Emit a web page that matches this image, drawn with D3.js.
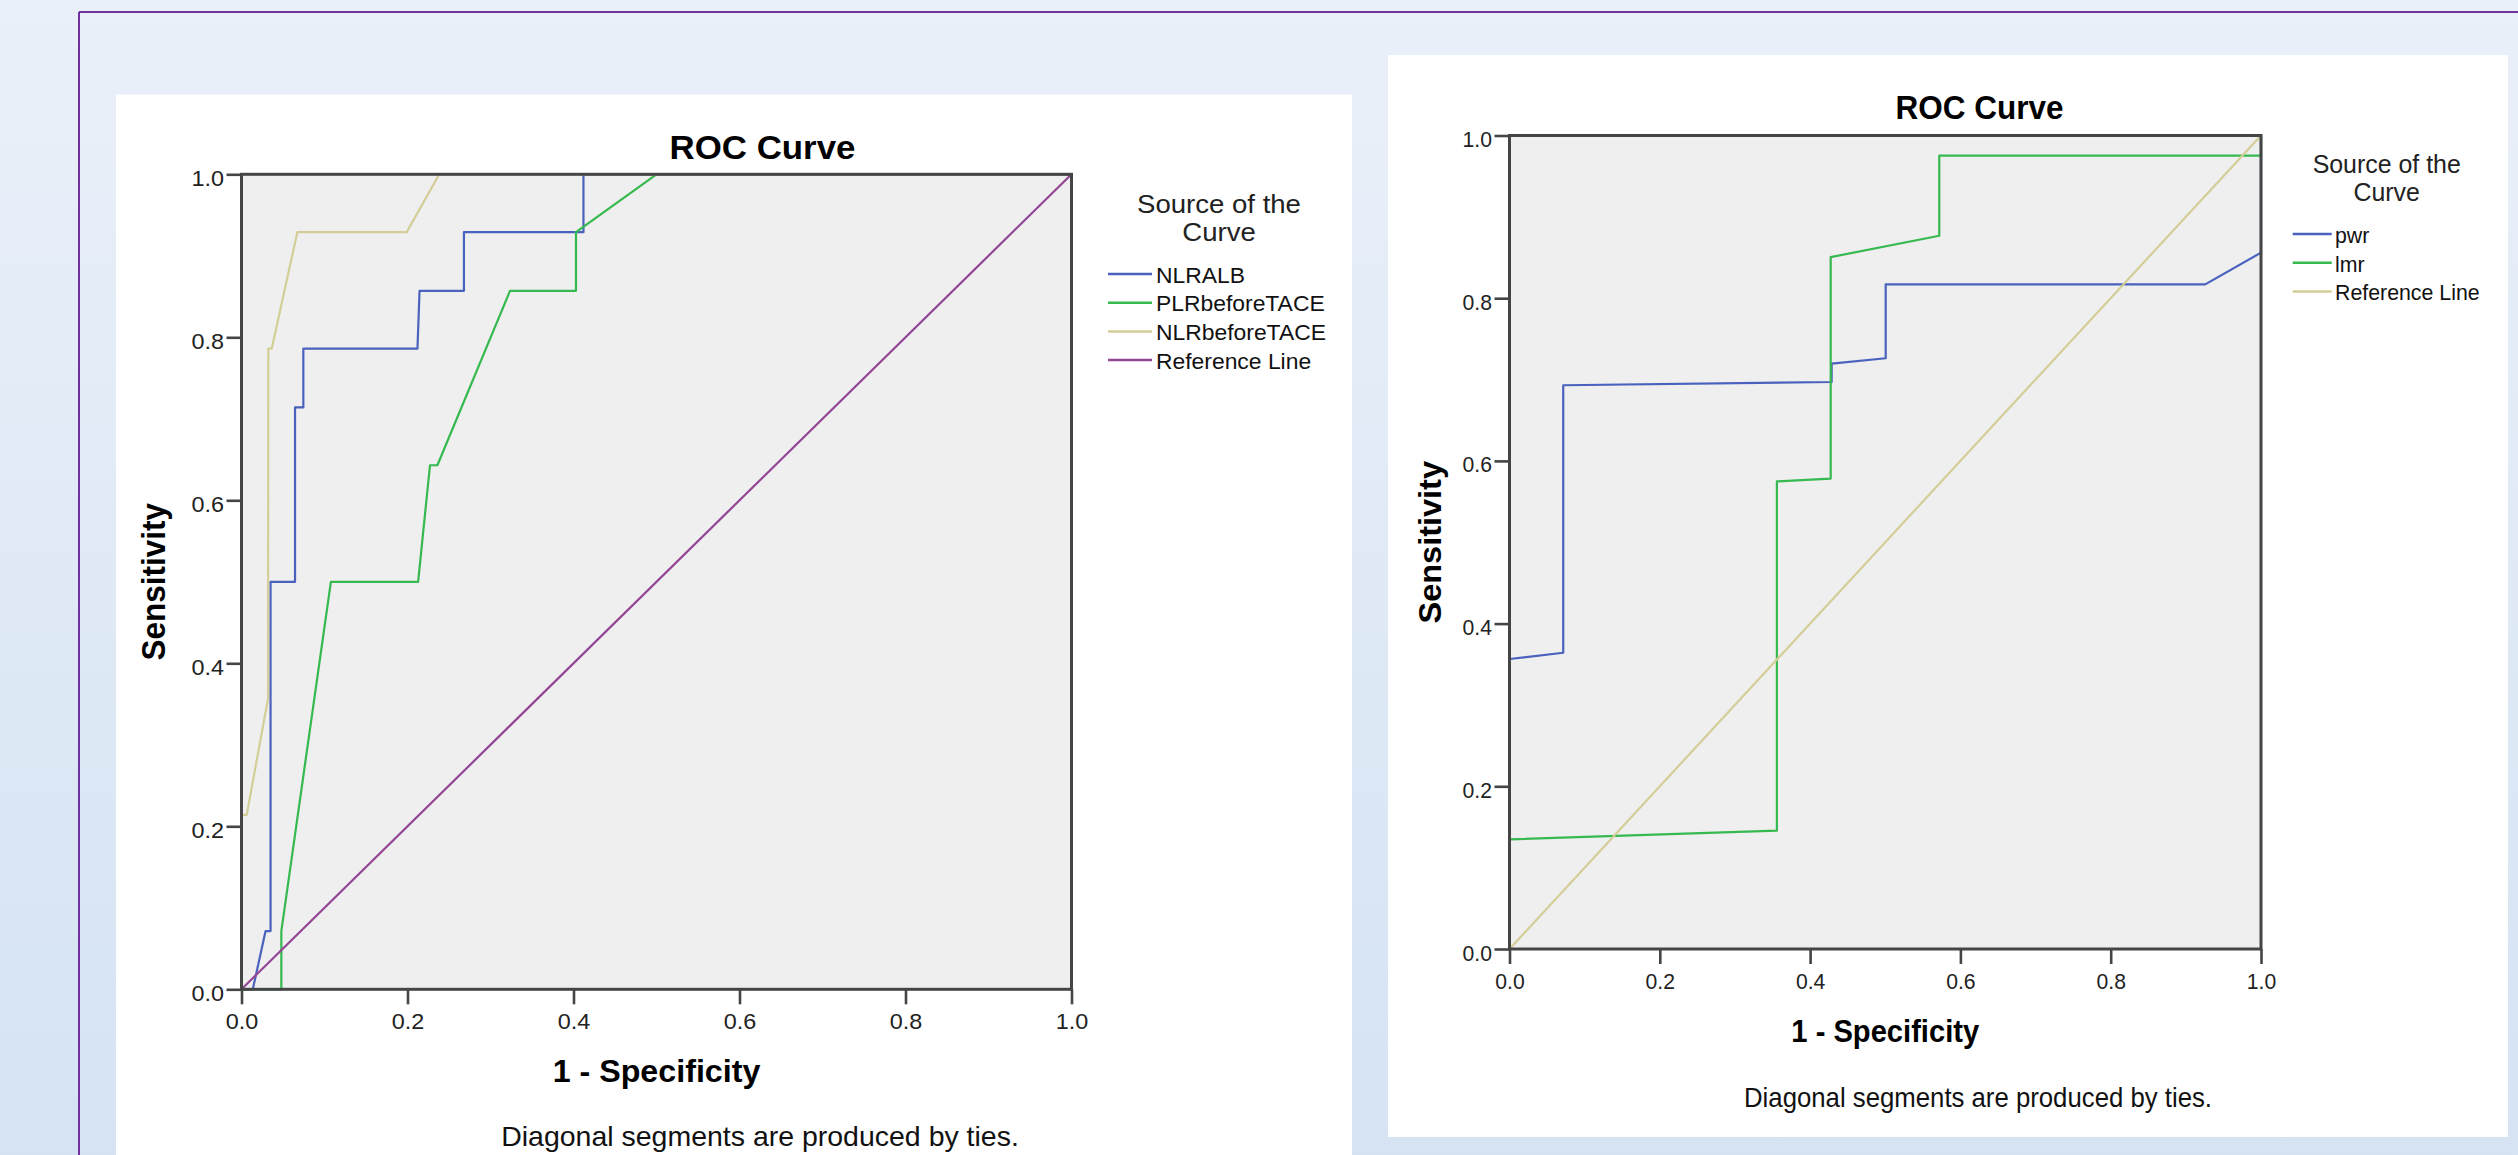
<!DOCTYPE html>
<html><head><meta charset="utf-8">
<script src="https://cdn.jsdelivr.net/npm/d3@7"></script>
<style>html,body{margin:0;padding:0;overflow:hidden;background:#fff}</style>
</head><body>
<svg id="c" width="2518" height="1155"></svg>
<script>
// ---------------- DATA ----------------
const tickValues = [0, 0.2, 0.4, 0.6, 0.8, 1.0];
const tickLabels = ["0.0", "0.2", "0.4", "0.6", "0.8", "1.0"];

const chartTitle = "ROC Curve";
const xAxisTitle = "1 - Specificity";
const yAxisTitle = "Sensitivity";
const legendTitle = ["Source of the", "Curve"];
const footnote = "Diagonal segments are produced by ties.";

// left chart
const leftSeriesNames = ["NLRALB", "PLRbeforeTACE", "NLRbeforeTACE", "Reference Line"];
const nlralbX = [0, 0.0136, 0.029, 0.035, 0.035, 0.0645, 0.0645, 0.0745, 0.0745, 0.212, 0.2145, 0.268, 0.268, 0.412, 0.412, 1];
const nlralbY = [0, 0, 0.0714, 0.0714, 0.5, 0.5, 0.714, 0.714, 0.786, 0.786, 0.857, 0.857, 0.929, 0.929, 1, 1];
const plrX = [0, 0.048, 0.048, 0.1077, 0.2128, 0.2271, 0.236, 0.3235, 0.403, 0.403, 0.5, 1];
const plrY = [0, 0, 0.0714, 0.5, 0.5, 0.643, 0.643, 0.857, 0.857, 0.929, 1, 1];
const nlrX = [0, 0, 0.0063, 0.032, 0.0323, 0.0364, 0.0673, 0.199, 0.2383, 1];
const nlrY = [0, 0.214, 0.214, 0.357, 0.786, 0.786, 0.929, 0.929, 1, 1];
const refX = [0, 1];
const refY = [0, 1];

// right chart
const rightSeriesNames = ["pwr", "lmr", "Reference Line"];
const pwrX = [0, 0, 0.0715, 0.0715, 0.4287, 0.4287, 0.5006, 0.5006, 0.9258, 1, 1];
const pwrY = [0, 0.3565, 0.3642, 0.693, 0.697, 0.7196, 0.7262, 0.817, 0.817, 0.856, 1];
const lmrX = [0, 0, 0.3558, 0.3558, 0.4274, 0.4274, 0.5719, 0.5719, 1, 1];
const lmrY = [0, 0.1348, 0.1454, 0.5748, 0.5783, 0.8505, 0.8768, 0.9752, 0.9752, 1];

// ---------------- STYLE / LAYOUT ----------------
const BLUE = "#4a62bd", GREEN = "#36b94f", BEIGE = "#d3ce97", PURPLE = "#934595";
const FONT = "'Liberation Sans', Arial, Helvetica, sans-serif";

const svg = d3.select("#c");
const defs = svg.append("defs");
const grad = defs.append("linearGradient").attr("id", "bg").attr("x1", 0).attr("y1", 0).attr("x2", 0).attr("y2", 1);
grad.append("stop").attr("offset", "0%").attr("stop-color", "#eaf0f9");
grad.append("stop").attr("offset", "100%").attr("stop-color", "#d5e3f3");

svg.append("rect").attr("width", 2518).attr("height", 1155).attr("fill", "url(#bg)");
// purple frame lines
svg.append("line").attr("x1", 79).attr("y1", 12).attr("x2", 2518).attr("y2", 12).attr("stroke", "#7030a0").attr("stroke-width", 2);
svg.append("line").attr("x1", 79).attr("y1", 12).attr("x2", 79).attr("y2", 1155).attr("stroke", "#7030a0").attr("stroke-width", 2);

// white panels
svg.append("rect").attr("x", 116).attr("y", 94.5).attr("width", 1352 - 116).attr("height", 1155 - 94.5).attr("fill", "#fff");
svg.append("rect").attr("x", 1388).attr("y", 55).attr("width", 2508 - 1388).attr("height", 1137 - 55).attr("fill", "#fff");

function txt(g, x, y, s, sx, o) {
  const t = g.append("text")
    .attr("transform", `translate(${x},${y}) scale(${sx},1)` + (o.rotate ? " rotate(-90)" : ""))
    .attr("font-family", FONT)
    .attr("font-size", o.size)
    .attr("font-weight", o.bold ? "bold" : "normal")
    .attr("text-anchor", o.anchor || "middle")
    .attr("fill", o.fill || "#111")
    .text(s);
  return t;
}

function drawChart(cfg) {
  const g = svg.append("g");
  const x = d3.scaleLinear().domain([0, 1]).range([cfg.x0, cfg.x1]);
  const y = d3.scaleLinear().domain([0, 1]).range([cfg.yBot, cfg.yTop]);
  const sx = cfg.sx;

  g.append("rect").attr("x", x(0)).attr("y", y(1)).attr("width", x(1) - x(0)).attr("height", y(0) - y(1)).attr("fill", "#efefef");

  const line = d3.line().x(d => x(d[0])).y(d => y(d[1]));
  cfg.series.forEach(s => {
    const pts = s.xs.map((v, i) => [v, s.ys[i]]);
    g.append("path").attr("d", line(pts)).attr("fill", "none").attr("stroke", s.color).attr("stroke-width", 2.2).attr("stroke-linejoin", "round");
  });

  // frame
  g.append("rect").attr("x", x(0)).attr("y", y(1)).attr("width", x(1) - x(0)).attr("height", y(0) - y(1))
    .attr("fill", "none").attr("stroke", "#454545").attr("stroke-width", 3);

  const fmt = (d) => tickLabels[tickValues.indexOf(d)];
  const xa = g.append("g").attr("transform", `translate(0,${y(0)})`)
    .call(d3.axisBottom(x).tickValues(tickValues).tickFormat(fmt).tickSize(15).tickSizeOuter(0).tickPadding(9));
  const ya = g.append("g").attr("transform", `translate(${x(0)},0)`)
    .call(d3.axisLeft(y).tickValues(tickValues).tickFormat(fmt).tickSize(15).tickSizeOuter(0).tickPadding(2.5));
  [xa, ya].forEach(a => {
    a.select(".domain").remove();
    a.selectAll(".tick line").attr("stroke", "#454545").attr("stroke-width", 2.6);
    a.selectAll(".tick text").attr("font-family", FONT).attr("font-size", 22.5).attr("fill", "#222");
  });
  xa.selectAll(".tick text").attr("transform", `scale(${sx},1)`);
  ya.selectAll(".tick text").attr("x", -17.5 / sx).attr("dy", "0.49em").attr("transform", `scale(${sx},1)`);

  // titles
  txt(g, cfg.titleX, cfg.titleY, chartTitle, sx, { size: 33.5, bold: true, fill: "#000" });
  txt(g, (x(0) + x(1)) / 2, cfg.xLabelY, xAxisTitle, sx, { size: 31, bold: true, fill: "#000" });
  txt(g, cfg.yLabelX, (y(0) + y(1)) / 2, yAxisTitle, sx, { size: cfg.yLabelSize, bold: true, fill: "#000", rotate: true });

  // legend
  const L = cfg.legend;
  legendTitle.forEach((s, i) => txt(g, L.titleX, L.titleY[i], s, sx, { size: 26.5, fill: "#222" }));
  cfg.series.forEach((s, i) => {
    const ly = L.itemY0 + i * L.itemDy;
    g.append("line").attr("x1", L.lineX0).attr("x2", L.lineX1).attr("y1", ly).attr("y2", ly)
      .attr("stroke", s.color).attr("stroke-width", 2.5);
    txt(g, L.textX, ly + 8.7, s.name, sx, { size: cfg.legendSize, anchor: "start", fill: "#111" });
  });

  txt(g, cfg.footX, cfg.footY, footnote, sx, { size: 27.4, fill: "#111" });
}

drawChart({
  x0: 241.5, x1: 1071.5, yTop: 174.3, yBot: 989.3, sx: 1.04,
  titleX: 762.5, titleY: 159.3, xLabelY: 1082, yLabelX: 164.5, yLabelSize: 31.5, legendSize: 22,
  footX: 760, footY: 1146,
  legend: { titleX: 1219, titleY: [213.3, 240.7], lineX0: 1108, lineX1: 1152, textX: 1156, itemY0: 274, itemDy: 28.7 },
  series: [
    { name: leftSeriesNames[0], xs: nlralbX, ys: nlralbY, color: BLUE },
    { name: leftSeriesNames[1], xs: plrX, ys: plrY, color: GREEN },
    { name: leftSeriesNames[2], xs: nlrX, ys: nlrY, color: BEIGE },
    { name: leftSeriesNames[3], xs: refX, ys: refY, color: PURPLE }
  ]
});

drawChart({
  x0: 1509.5, x1: 2261, yTop: 135.5, yBot: 949, sx: 0.94,
  titleX: 1979.5, titleY: 119, xLabelY: 1041.5, yLabelX: 1441, yLabelSize: 32.5, legendSize: 22.7,
  footX: 1978, footY: 1107,
  legend: { titleX: 2386.7, titleY: [172.7, 200.7], lineX0: 2292.7, lineX1: 2331.7, textX: 2335, itemY0: 234, itemDy: 28.8 },
  series: [
    { name: rightSeriesNames[0], xs: pwrX, ys: pwrY, color: BLUE },
    { name: rightSeriesNames[1], xs: lmrX, ys: lmrY, color: GREEN },
    { name: rightSeriesNames[2], xs: refX, ys: refY, color: BEIGE }
  ]
});
</script>
</body></html>
